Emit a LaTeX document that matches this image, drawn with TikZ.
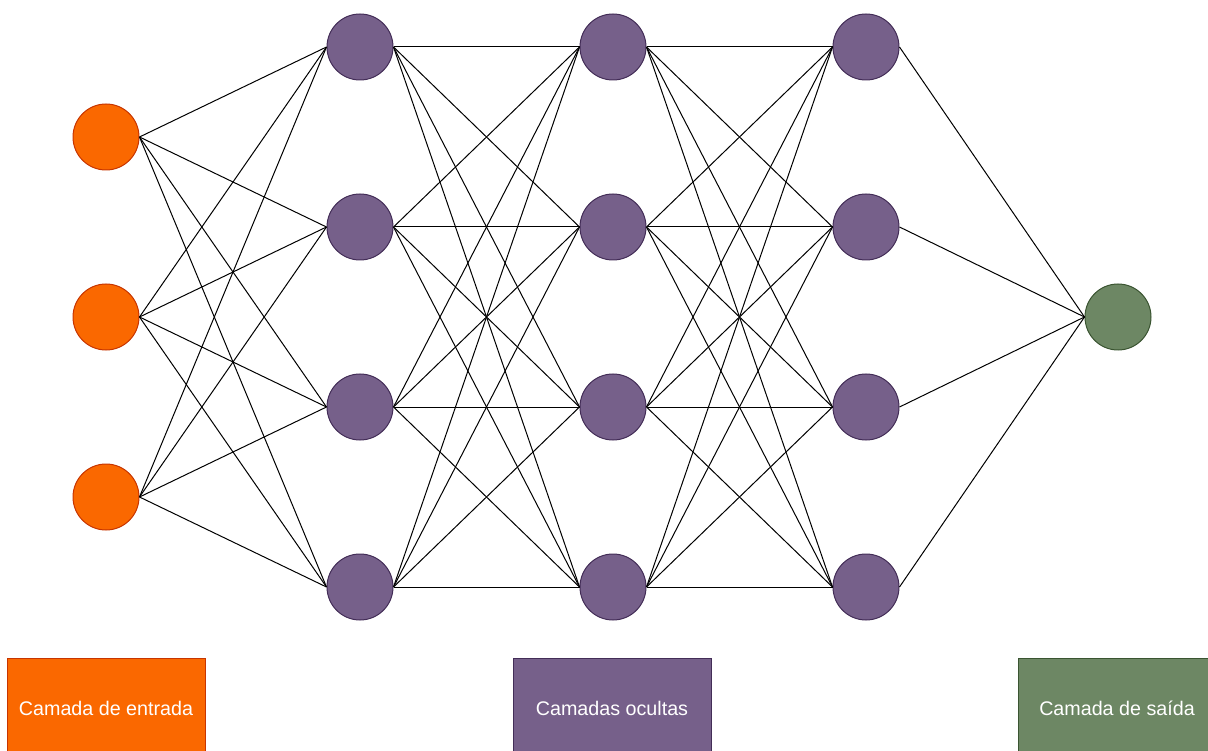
\documentclass[tikz,border=0pt]{standalone}
\usepackage{fontspec}
\setmainfont{Liberation Sans}
\definecolor{inFill}{HTML}{FA6800}
\definecolor{inLine}{HTML}{C73500}
\definecolor{hidFill}{HTML}{76608A}
\definecolor{hidLine}{HTML}{432D57}
\definecolor{outFill}{HTML}{6D8764}
\definecolor{outLine}{HTML}{3A5431}
\tikzset{
  neuron/.style={circle, minimum size=66pt, inner sep=0pt, line width=1pt},
  inneuron/.style={neuron, fill=inFill, draw=inLine},
  hidneuron/.style={neuron, fill=hidFill, draw=hidLine},
  outneuron/.style={neuron, fill=outFill, draw=outLine},
  link/.style={draw=black, line width=1pt},
  legend/.style={rectangle, minimum width=198pt, minimum height=100pt, inner sep=0pt,
    line width=1pt, text=white, font=\fontsize{19.7}{22}\selectfont},
}
\begin{document}
\begin{tikzpicture}[x=1pt, y=-1pt]
\useasboundingbox (0,0) rectangle (1208,751);
\clip (0,0) rectangle (1208,751);

% input layer
\foreach \r/\y in {1/137, 2/317, 3/497}
  \node[inneuron] (i\r) at (106,\y) {};

% hidden layers
\foreach \c/\x in {1/360, 2/613, 3/866}
  \foreach \r/\y in {1/47, 2/227, 3/407, 4/587}
    \node[hidneuron] (h\c\r) at (\x,\y) {};

% output layer
\node[outneuron] (o) at (1118,317) {};

% connections: input -> first hidden layer
\foreach \a in {1,2,3}
  \foreach \b in {1,2,3,4}
    \draw[link] (i\a.east) -- (h1\b.west);

% connections between hidden layers
\foreach \c/\n in {1/2, 2/3}
  \foreach \a in {1,2,3,4}
    \foreach \b in {1,2,3,4}
      \draw[link] (h\c\a.east) -- (h\n\b.west);

% connections: last hidden layer -> output
\foreach \a in {1,2,3,4}
  \draw[link] (h3\a.east) -- (o.west);

% legend
\node[legend, fill=inFill, draw=inLine] (legIn) at (106,708) {Camada de entrada};
\node[legend, fill=hidFill, draw=hidLine] (legHid) at (612,708) {Camadas ocultas};
\node[legend, fill=outFill, draw=outLine] (legOut) at (1117,708) {Camada de saída};
\end{tikzpicture}
\end{document}
